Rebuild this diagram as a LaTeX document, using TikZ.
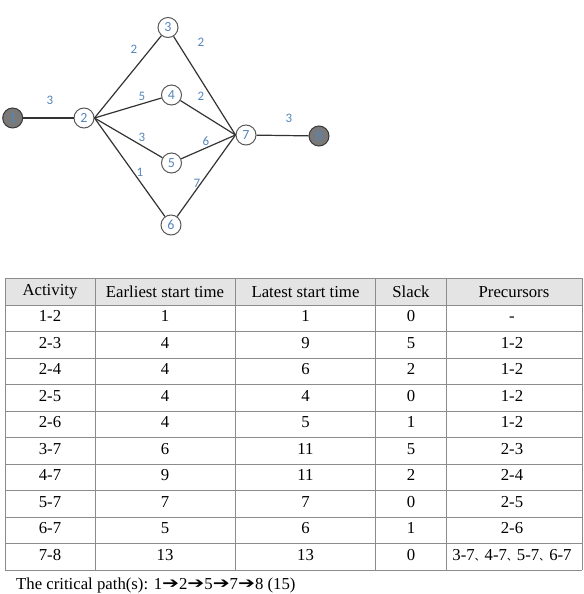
\documentclass[tikz,border=0pt]{standalone}
\usepackage{fontspec}
\usepackage{graphicx}
\setmainfont{Liberation Serif}
\newfontfamily\calib{Carlito}
\newfontfamily\djv{DejaVu Sans}
\newfontfamily\cjk{Noto Sans CJK SC}
\newcommand{\dun}{{\cjk\fontsize{10}{10}\selectfont 、}}
\newcommand{\harr}{\raisebox{0.2pt}{\scalebox{1.45}[1.1]{\djv\fontsize{14}{14}\selectfont ➔}}}
\definecolor{lblue}{HTML}{5586BC}
\definecolor{edgec}{HTML}{333333}
\definecolor{gridc}{HTML}{8C8C8C}
\definecolor{headc}{HTML}{E4E4E4}
\begin{document}
\begin{tikzpicture}[x=1bp,y=-1bp,
  vtx/.style={circle,draw=gray!70!black,line width=1bp,fill=white,minimum size=20bp,inner sep=0pt,font=\calib\fontsize{14}{14}\selectfont,text=lblue},
  endv/.style={vtx,fill=gray!95!black,draw=gray!45!black},
  edg/.style={draw=edgec,line width=1.2bp},
  wlab/.style={font=\calib\fontsize{13}{13}\selectfont,text=lblue,inner sep=0pt},
  cell/.style={font=\fontsize{16.8}{16.8}\selectfont,inner sep=0pt,anchor=center}
]
\useasboundingbox (0,0) rectangle (584,594);
% graph
\node[endv] (n1) at (12.7,118) {1};
\node[vtx] (n2) at (84,118) {2};
\node[vtx] (n3) at (168,27.5) {3};
\node[vtx] (n4) at (171.5,95) {4};
\node[vtx] (n5) at (171.5,163) {5};
\node[vtx] (n6) at (171,225) {6};
\node[vtx] (n7) at (246,135) {7};
\node[endv] (n8) at (319,136) {8};
\draw[edg] (n1) -- (n2);
\draw[edg] (n2.east) -- (n3);
\draw[edg] (n2.east) -- (n4);
\draw[edg] (n2.east) -- (n5);
\draw[edg] (n2.east) -- (n6);
\draw[edg] (n3) -- (n7.west);
\draw[edg] (n4) -- (n7.west);
\draw[edg] (n5) -- (n7.west);
\draw[edg] (n6) -- (n7.west);
\draw[edg] (n7) -- (n8);
\node[wlab] (w12) at (50,100) {3};
\node[wlab] (w23) at (134,49) {2};
\node[wlab] (w37) at (201,42) {2};
\node[wlab] (w24) at (142,96) {5};
\node[wlab] (w47) at (201,96) {2};
\node[wlab] (w25) at (142,137) {3};
\node[wlab] (w57) at (206,141) {6};
\node[wlab] (w26) at (140,172) {1};
\node[wlab] (w67) at (197,183) {7};
\node[wlab] (w78) at (289,118) {3};
% table
\fill[headc] (5,278) rectangle (582,305);
\foreach \yy in {278,305,331.5,358,384.5,411,437.5,464,490.5,517,543.5,570}
  \draw[gridc,line width=0.9bp] (5,\yy) -- (582,\yy);
\foreach \xx in {5,95,235.5,375.5,446.5,582}
  \draw[gridc,line width=0.9bp] (\xx,278) -- (\xx,570);
\node[cell] (h1) at (50,292) {Activity};
\node[cell] (h2) at (165,292) {Earliest start time};
\node[cell] (h3) at (305.5,292) {Latest start time};
\node[cell] (h4) at (411,292) {Slack};
\node[cell] (h5) at (514,292) {Precursors};
\foreach \a/\b/\c/\d/\e [count=\i] in {1-2/1/1/0/-, 2-3/4/9/5/1-2, 2-4/4/6/2/1-2, 2-5/4/4/0/1-2, 2-6/4/5/1/1-2, 3-7/6/11/5/2-3, 4-7/9/11/2/2-4, 5-7/7/7/0/2-5, 6-7/5/6/1/2-6, 7-8/13/13/0/{3-7\dun4-7\dun5-7\dun6-7}}{
  \pgfmathsetmacro{\yc}{305+26.5*(\i-1)+13.5}
  \node[cell] (r\i a) at (50,\yc) {\a\strut};
  \node[cell] (r\i b) at (165,\yc) {\b\strut};
  \node[cell] (r\i c) at (305.5,\yc) {\c\strut};
  \node[cell] (r\i d) at (411,\yc) {\d\strut};
  \node[cell] (r\i e) at (512,\yc) {\e\strut};
}
\node[font=\fontsize{16.8}{16.8}\selectfont,anchor=base west,inner sep=0pt] (cp) at (16,589) {The critical path(s): 1\harr2\harr5\harr7\harr8 (15)};
\end{tikzpicture}
\end{document}
